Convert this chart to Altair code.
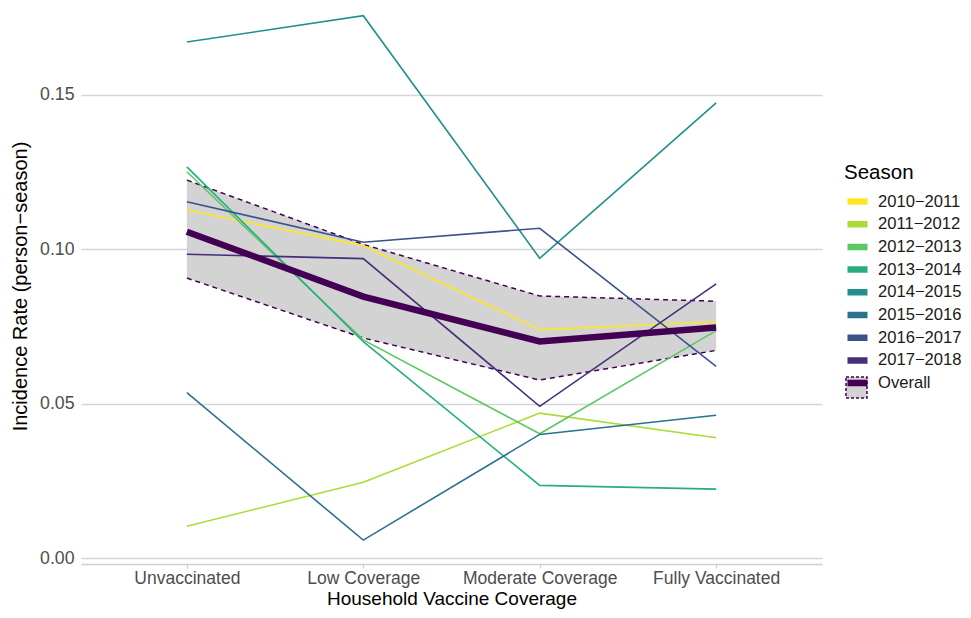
import altair as alt
import pandas as pd

categories = ["Unvaccinated", "Low Coverage", "Moderate Coverage", "Fully Vaccinated"]
seasons = ["2010−2011", "2011−2012", "2012−2013", "2013−2014",
           "2014−2015", "2015−2016", "2016−2017", "2017−2018"]

rate_2010_2011 = [0.1126, 0.1011, 0.0739, 0.0764]
rate_2011_2012 = [0.0103, 0.0245, 0.0469, 0.0389]
rate_2012_2013 = [0.1250, 0.0706, 0.0402, 0.0736]
rate_2013_2014 = [0.1266, 0.0700, 0.0235, 0.0223]
rate_2014_2015 = [0.1670, 0.1755, 0.0970, 0.1473]
rate_2015_2016 = [0.0535, 0.0058, 0.0400, 0.0462]
rate_2016_2017 = [0.1153, 0.1022, 0.1067, 0.0620]
rate_2017_2018 = [0.0983, 0.0969, 0.0491, 0.0887]
season_rates = [rate_2010_2011, rate_2011_2012, rate_2012_2013, rate_2013_2014,
                rate_2014_2015, rate_2015_2016, rate_2016_2017, rate_2017_2018]

overall_rate = [0.1056, 0.0846, 0.0701, 0.0746]
overall_lower = [0.0906, 0.0712, 0.0576, 0.0672]
overall_upper = [0.1223, 0.1015, 0.0848, 0.0831]

colors = ["#FDE725", "#AADC32", "#5DC863", "#27AD81", "#21908C",
          "#2C728E", "#3B528B", "#472D7B", "#440154"]
y_ticks = [0.0, 0.05, 0.10, 0.15]

season_df = pd.DataFrame([
    {"season": s, "coverage": c, "rate": v}
    for s, vals in zip(seasons, season_rates)
    for c, v in zip(categories, vals)
])
overall_df = pd.DataFrame({"season": "Overall", "coverage": categories, "rate": overall_rate})
ribbon_df = pd.DataFrame({"band": "Overall", "coverage": categories,
                          "lower": overall_lower, "upper": overall_upper})
bounds_df = pd.DataFrame(
    [{"bound": "lower", "coverage": c, "rate": v} for c, v in zip(categories, overall_lower)]
    + [{"bound": "upper", "coverage": c, "rate": v} for c, v in zip(categories, overall_upper)]
)

FONT = "Liberation Sans"

x_axis = alt.Axis(title="Household Vaccine Coverage", labelAngle=0, grid=False,
                  domain=True, domainColor="#D0D0D0", domainWidth=1.3,
                  ticks=True, tickColor="#D0D0D0", tickSize=4, tickWidth=1.2,
                  labelFontSize=17.5, labelColor="#4D4D4D", labelPadding=1,
                  titleFontSize=19, titleFontWeight="normal", titleColor="#000000",
                  titlePadding=3, labelFont=FONT, titleFont=FONT)
y_axis = alt.Axis(title="Incidence Rate (person−season)", values=y_ticks, format=".2f",
                  grid=True, gridColor="#D6D6D6", gridWidth=1.4,
                  domain=False, ticks=False, tickSize=0,
                  labelFontSize=17.7, labelColor="#4D4D4D", labelPadding=7,
                  titleFontSize=20, titleFontWeight="normal", titleColor="#000000",
                  titlePadding=9, labelFont=FONT, titleFont=FONT)

x_scale = alt.Scale(type="point", domain=categories, padding=0.6)
y_scale = alt.Scale(domain=[-0.00194, 0.178], nice=False, zero=False)

X = alt.X("coverage:N", scale=x_scale, axis=x_axis, sort=categories)

color_enc = alt.Color(
    "season:N",
    scale=alt.Scale(domain=seasons + ["Overall"], range=colors),
    legend=alt.Legend(title="Season", orient="none", legendX=763, legendY=155,
                      symbolType="stroke", symbolSize=400, symbolStrokeWidth=6.5,
                      clipHeight=20,
                      labelFontSize=16.6, labelColor="#1A1A1A", labelFont=FONT,
                      titleFontSize=20.5, titleFontWeight="normal", titleColor="#000000",
                      titleFont=FONT, titlePadding=8, rowPadding=2.7, labelOffset=7,
                      zindex=1),
)

ribbon = alt.Chart(ribbon_df).mark_area(opacity=1).encode(
    x=X,
    y=alt.Y("lower:Q", scale=y_scale, axis=y_axis),
    y2="upper:Q",
    fill=alt.Fill("band:N", scale=alt.Scale(domain=["Overall"], range=["#D3D3D3"]),
                  legend=alt.Legend(title=None, orient="none", legendX=764, legendY=368,
                                    symbolType="square", symbolSize=441,
                                    symbolStrokeColor="#440154", symbolStrokeWidth=1.5,
                                    symbolDash=[3, 2], symbolOpacity=1,
                                    labelExpr="''", zindex=0)),
)

bounds = alt.Chart(bounds_df).mark_line(color="#440154", strokeDash=[5, 4], strokeWidth=1.5).encode(
    x=X,
    y=alt.Y("rate:Q", scale=y_scale, axis=y_axis),
    detail="bound:N",
)

season_lines = alt.Chart(season_df).mark_line(strokeWidth=1.6).encode(
    x=X,
    y=alt.Y("rate:Q", scale=y_scale, axis=y_axis),
    color=color_enc,
)

overall_line = alt.Chart(overall_df).mark_line(strokeWidth=6.5).encode(
    x=X,
    y=alt.Y("rate:Q", scale=y_scale, axis=y_axis),
    color=color_enc,
)

chart = alt.layer(ribbon, bounds, season_lines, overall_line).properties(
    width=741, height=556,
    autosize=alt.AutoSizeParams(type="none"),
    padding={"left": 73, "top": 0, "right": 141, "bottom": 46},
).configure(font=FONT).configure_view(stroke=None)

chart.save("out.html", embed_options={"renderer": "svg", "actions": False})
